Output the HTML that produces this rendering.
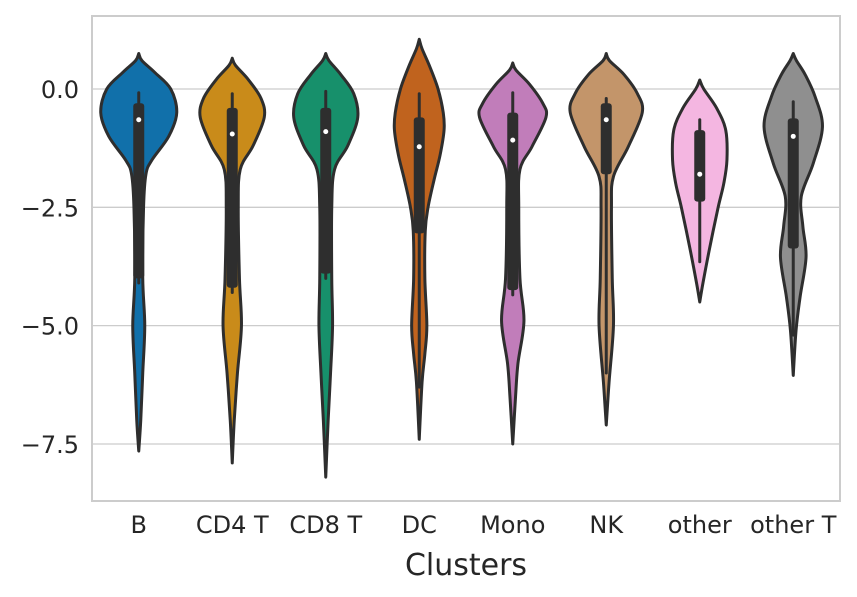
<!DOCTYPE html>
<html><head><meta charset="utf-8"><style>
body{margin:0;background:#fff;}
svg{display:block;font-family:"DejaVu Sans","Liberation Sans",sans-serif;}
</style></head><body>
<svg id="chart" width="857" height="597" viewBox="0 0 857 597"></svg>
<script>
const categories = ["B","CD4 T","CD8 T","DC","Mono","NK","other","other T"];
const colors = ["#1170aa","#c98b1a","#17906b","#c0631e","#c17dba","#c3956a","#f4b6e1","#8f8f8f"];
// density profiles: [value, relative half-width]
const profileB = [[0.75,0],[0.6,0.08],[0.35,0.4],[0.0,0.8],[-0.5,0.95],[-1.0,0.75],[-1.5,0.33],[-1.8,0.18],[-2.5,0.12],[-4,0.1],[-5,0.15],[-6,0.1],[-7,0.05],[-7.65,0]];
const profileCD4 = [[0.65,0],[0.5,0.08],[0.2,0.4],[-0.2,0.72],[-0.6,0.8],[-1.2,0.52],[-1.7,0.2],[-2.5,0.15],[-4,0.18],[-5,0.23],[-6,0.13],[-7,0.05],[-7.9,0]];
const profileCD8 = [[0.75,0],[0.6,0.08],[0.3,0.38],[-0.1,0.7],[-0.6,0.8],[-1.2,0.55],[-1.7,0.22],[-2.5,0.15],[-4,0.15],[-5,0.17],[-6,0.12],[-7,0.06],[-8.2,0]];
const profileDC = [[1.05,0],[0.85,0.07],[0.5,0.25],[0.0,0.47],[-0.5,0.6],[-0.87,0.62],[-1.4,0.52],[-1.92,0.37],[-2.5,0.22],[-3.0,0.15],[-4,0.14],[-5,0.19],[-5.6,0.14],[-6.2,0.07],[-7.4,0]];
const profileMono = [[0.55,0],[0.4,0.08],[0.1,0.42],[-0.3,0.75],[-0.6,0.83],[-1.22,0.48],[-1.7,0.18],[-2.5,0.15],[-4,0.18],[-4.9,0.28],[-5.8,0.13],[-6.5,0.07],[-7.5,0]];
const profileNK = [[0.75,0],[0.6,0.08],[0.3,0.45],[-0.1,0.78],[-0.5,0.9],[-1.22,0.55],[-1.85,0.18],[-2.5,0.13],[-4,0.15],[-5,0.18],[-6.2,0.07],[-7.1,0]];
const profileOther = [[0.19,0],[0.0,0.1],[-0.4,0.42],[-0.87,0.65],[-1.5,0.68],[-2.0,0.6],[-2.5,0.46],[-3.35,0.25],[-4.1,0.08],[-4.5,0]];
const profileOtherT = [[0.75,0],[0.6,0.08],[0.3,0.3],[-0.17,0.55],[-0.8,0.73],[-1.57,0.5],[-2.27,0.2],[-2.9,0.24],[-3.55,0.32],[-4.4,0.17],[-5.1,0.07],[-6.05,0]];
const profiles = [profileB,profileCD4,profileCD8,profileDC,profileMono,profileNK,profileOther,profileOtherT];
// box stats: [whiskerTop, q3, median, q1, whiskerBottom]
const boxStats = [[-0.08,-0.3,-0.65,-4.0,-4.1],[-0.1,-0.4,-0.95,-4.2,-4.3],[-0.05,-0.4,-0.9,-3.9,-4.0],[-0.1,-0.6,-1.22,-3.05,-6.3],[-0.08,-0.5,-1.08,-4.25,-4.35],[-0.2,-0.3,-0.65,-1.8,-6.0],[-0.65,-0.87,-1.8,-2.38,-3.65],[-0.27,-0.62,-1.0,-3.37,-5.2]];
const yTicks = [0,-2.5,-5,-7.5];
const yTickLabels = ["0.0","\u22122.5","\u22125.0","\u22127.5"];

const NS="http://www.w3.org/2000/svg";
const svg=document.getElementById('chart');
const L=92,R=840,T=16,B=501;
const y=v=>89 - v*47.33;
const band=(R-L)/categories.length;
const x=i=>L+band*(i+0.5);
const maxHalf=40;
function mk(t,a,p){const e=document.createElementNS(NS,t);for(const k in a)e.setAttribute(k,a[k]);(p||svg).appendChild(e);return e;}

const grid=mk('g',{});


yTicks.forEach((t,i)=>{
  const l=mk('line',{x1:L,x2:R,y1:y(t),y2:y(t),stroke:'#cccccc','stroke-width':1.3},grid);
  
  
  const tx=mk('text',{x:79,y:y(t)+9,'text-anchor':'end','font-size':24,fill:'#262626'});
  tx.textContent=yTickLabels[i];
  
  
});

function smooth(pts){
  let d=`M${pts[0][0]},${pts[0][1]}`;
  for(let i=0;i<pts.length-1;i++){
    const p0=pts[Math.max(0,i-1)],p1=pts[i],p2=pts[i+1],p3=pts[Math.min(pts.length-1,i+2)];
    const c1=[p1[0]+(p2[0]-p0[0])/6,p1[1]+(p2[1]-p0[1])/6];
    const c2=[p2[0]-(p3[0]-p1[0])/6,p2[1]-(p3[1]-p1[1])/6];
    d+=`C${c1[0]},${c1[1]} ${c2[0]},${c2[1]} ${p2[0]},${p2[1]}`;
  }
  return d;
}

categories.forEach((c,i)=>{
  const cx=x(i),prof=profiles[i];
  const right=prof.map(p=>[cx+p[1]*maxHalf,y(p[0])]);
  const left=prof.slice().reverse().map(p=>[cx-p[1]*maxHalf,y(p[0])]);
  const d=smooth(right)+smooth(left).replace(/^M/,'L')+'Z';
  const v=mk('path',{d:d,fill:colors[i],stroke:'#2e2e2e','stroke-width':3,'stroke-linejoin':'round'});
  
  
  const s=boxStats[i];
  const w=mk('line',{x1:cx,x2:cx,y1:y(s[0]),y2:y(s[4]),stroke:'#2e2e2e','stroke-width':3,'stroke-linecap':'round'});
  
  
  const b=mk('rect',{x:cx-5.5,y:y(s[1]),width:11,height:y(s[3])-y(s[1]),rx:3,fill:'#2e2e2e'});
  
  
  const m=mk('circle',{cx:cx,cy:y(s[2]),r:2.5,fill:'#ffffff'});
  
  
  const tx=mk('text',{x:cx,y:533,'text-anchor':'middle','font-size':24,fill:'#262626'});
  tx.textContent=c;
  
  
});

const frame=mk('rect',{x:L,y:T,width:R-L,height:B-T,fill:'none',stroke:'#cccccc','stroke-width':2});


const xl=mk('text',{x:(L+R)/2,y:575,'text-anchor':'middle','font-size':30,fill:'#262626'});
xl.textContent='Clusters';


</script>
</body></html>
